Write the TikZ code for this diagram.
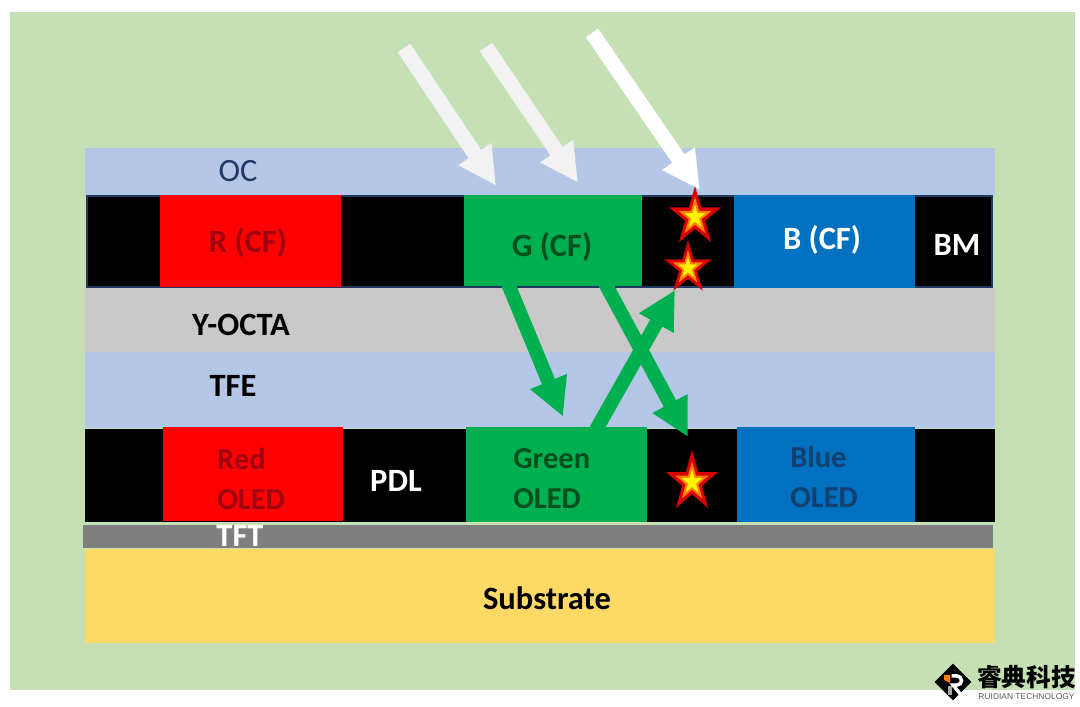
\documentclass[tikz,border=0pt]{standalone}
\usepackage{fontspec}
\setmainfont{Carlito}
\newfontfamily\cjkfont{Noto Sans CJK SC}
\newfontfamily\logofont{Liberation Sans}
\usetikzlibrary{arrows.meta,shapes.geometric}
\definecolor{panelgreen}{HTML}{C5E0B4}
\definecolor{layerblue}{HTML}{B4C7E7}
\definecolor{layergrey}{HTML}{C9C9C9}
\definecolor{tftgrey}{HTML}{7F7F7F}
\definecolor{subyellow}{HTML}{FFD966}
\definecolor{navyline}{HTML}{1F3864}
\definecolor{oledgreen}{HTML}{00B050}
\definecolor{oledblue}{HTML}{0070C0}
\definecolor{darkred}{HTML}{A00010}
\definecolor{darkgreen}{HTML}{00501F}
\definecolor{darkblue}{HTML}{12406F}
\begin{document}
\begin{tikzpicture}[
  font=\bfseries\fontsize{18.5}{22.8}\selectfont,
  layer/.style={inner sep=0pt, minimum width=18.2cm},
  colbox/.style={inner sep=0pt},
  lightarrow/.style={-{Triangle[length=0.76cm,width=0.74cm]}, line width=0.3cm, draw=#1},
  greenarrow/.style={-{Triangle[length=0.76cm,width=0.74cm]}, line width=0.28cm, draw=oledgreen},
  burst/.style={star, star points=5, star point ratio=2.6, inner sep=0pt, fill=#1, transform shape},
  lbl/.style={inner sep=0pt},
  oledlbl/.style={inner sep=0pt, align=left, anchor=west, font=\bfseries\fontsize{17.3}{22.8}\selectfont}
]
\useasboundingbox (0,0) rectangle (21.6,14.12);
\node[colbox, fill=panelgreen, minimum width=21.3cm, minimum height=13.56cm] (panel) at (10.85,7.10) {};
% layers
\node[layer, fill=layerblue, minimum height=0.94cm] (oc) at (10.8,10.69) {};
\node[colbox, fill=black, draw=navyline, line width=0.04cm, minimum width=18.1cm, minimum height=1.82cm] (cfband) at (10.79,9.29) {};
\node[layer, fill=layergrey, minimum height=1.28cm] (yocta) at (10.8,7.72) {};
\node[layer, fill=layerblue, minimum height=1.52cm] (tfe) at (10.8,6.32) {};
\node[layer, fill=black, minimum height=1.86cm] (pdl) at (10.8,4.61) {};
\node[layer, fill=tftgrey, minimum height=0.46cm] (tft) at (10.76,3.39) {};
\node[layer, fill=subyellow, minimum height=1.88cm] (substrate) at (10.8,2.2) {};
% colour filters
\node[colbox, fill=red, minimum width=3.62cm, minimum height=1.84cm] (rcf) at (5.01,9.30) {};
\node[colbox, fill=oledgreen, minimum width=3.56cm, minimum height=1.82cm] (gcf) at (11.06,9.31) {};
\node[colbox, fill=oledblue, minimum width=3.62cm, minimum height=1.86cm] (bcf) at (16.49,9.29) {};
% OLEDs
\node[colbox, fill=red, minimum width=3.6cm, minimum height=1.88cm] (redoled) at (5.06,4.64) {};
\node[colbox, fill=oledgreen, minimum width=3.62cm, minimum height=1.9cm] (greenoled) at (11.13,4.63) {};
\node[colbox, fill=oledblue, minimum width=3.56cm, minimum height=1.9cm] (blueoled) at (16.52,4.63) {};
% labels
\node[lbl, navyline, font=\fontsize{18.5}{22}\selectfont] (oclbl) at (4.76,10.70) {OC};
\node[lbl, darkred] (rcflbl) at (4.96,9.26) {R (CF)};
\node[lbl, darkgreen] (gcflbl) at (11.04,9.18) {G (CF)};
\node[lbl, white] (bcflbl) at (16.44,9.32) {B (CF)};
\node[lbl, white] (bmlbl) at (19.14,9.22) {BM};
\node[lbl] (yoctalbl) at (4.82,7.62) {Y-OCTA};
\node[lbl] (tfelbl) at (4.66,6.40) {TFE};
\node[lbl, white] (pdllbl) at (7.92,4.50) {PDL};
\node[oledlbl, darkred] (redlbl) at (4.34,4.54) {Red\\OLED};
\node[oledlbl, darkgreen] (greenlbl) at (10.26,4.54) {Green\\OLED};
\node[oledlbl, darkblue] (bluelbl) at (15.8,4.58) {Blue\\OLED};
\node[lbl, white] (tftlbl) at (4.8,3.40) {TFT};
\node[lbl] (sublbl) at (10.94,2.16) {Substrate};
% incoming light
\coordinate (lighta) at (8.08,13.16);
\coordinate (lightb) at (9.72,13.18);
\coordinate (lightc) at (11.84,13.46);
\coordinate (hitc) at (14.0,10.32);
\draw[lightarrow=black!5] (lighta) -- ([xshift=-1.14cm,yshift=0.18cm]gcf.north);
\draw[lightarrow=black!5] (lightb) -- ([xshift=0.5cm,yshift=0.24cm]gcf.north);
\draw[lightarrow=white] (lightc) -- (hitc);
% stars
\node[burst=red!85!black, minimum size=1.24cm, xscale=0.88] (stara) at (13.9,9.78) {};
\node[burst=red!85!black, minimum size=1.12cm, xscale=0.89] (starb) at (13.76,8.76) {};
\node[burst=red!85!black, minimum size=1.28cm, xscale=0.85] (starc) at (13.84,4.48) {};
\node[burst=orange, minimum size=0.8cm, xscale=0.88] (staraeye) at (13.9,9.78) {};
\node[burst=orange, minimum size=0.72cm, xscale=0.89] (starbeye) at (13.76,8.76) {};
\node[burst=orange, minimum size=0.82cm, xscale=0.85] (starceye) at (13.84,4.48) {};
\node[burst=yellow, minimum size=0.5cm, xscale=0.88] (staracore) at (13.9,9.78) {};
\node[burst=yellow, minimum size=0.45cm, xscale=0.89] (starbcore) at (13.76,8.76) {};
\node[burst=yellow, minimum size=0.52cm, xscale=0.85] (starccore) at (13.84,4.48) {};
% emitted light
\draw[greenarrow] ([xshift=-0.92cm,yshift=0.1cm]gcf.south) -- ([xshift=0.13cm,yshift=0.2cm]greenoled.north);
\draw[greenarrow] ([xshift=1.02cm,yshift=0.1cm]gcf.south) -- ([xshift=-0.08cm,yshift=0.9cm]starc.center);
\draw[greenarrow] ([xshift=0.77cm,yshift=-0.1cm]greenoled.north) -- ([xshift=-0.26cm,yshift=-0.44cm]starb.center);
% logo
\node[diamond, fill=black, inner sep=0pt, minimum width=0.74cm, minimum height=0.74cm] (logo) at (19.06,0.48) {};
\fill[orange] (18.88,0.62) -- (19.0,0.62) -- (19.0,0.46) -- (18.88,0.52) -- cycle;
\draw[white, line width=0.07cm] (19.03,0.60) -- (19.14,0.60) .. controls (19.26,0.60) and (19.26,0.42) .. (19.14,0.42) -- (19.06,0.42) -- (19.22,0.22);
\draw[black!35, line width=0.07cm] (19.0,0.40) -- (19.0,0.22);
\node[lbl, font=\cjkfont\bfseries\fontsize{14}{15}\selectfont] (logotext) at (20.53,0.58) {睿典科技};
\node[lbl, font=\logofont\fontsize{4.8}{5}\selectfont, black!65] (logosub) at (20.53,0.18) {RUIDIAN TECHNOLOGY};
\end{tikzpicture}
\end{document}
